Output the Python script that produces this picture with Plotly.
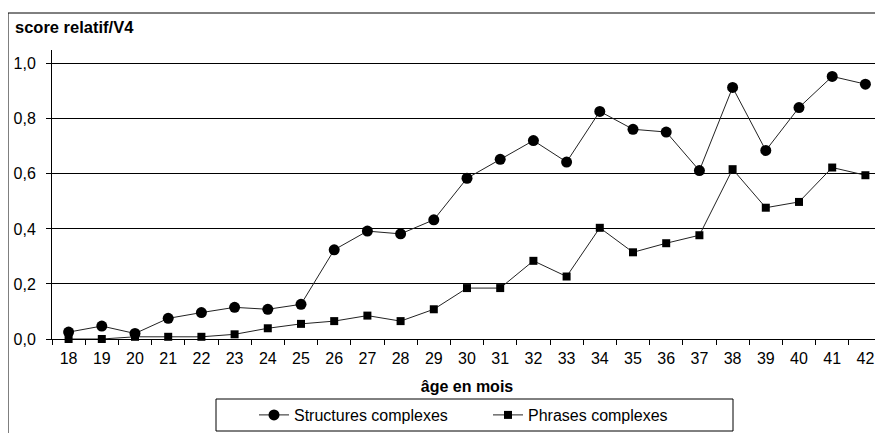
import plotly.graph_objects as go

# age in months (category axis)
ages = [str(a) for a in range(18, 43)]

structures_complexes = [0.025, 0.047, 0.020, 0.075, 0.096, 0.115, 0.108, 0.126,
                        0.324, 0.392, 0.382, 0.433, 0.584, 0.653, 0.721, 0.643,
                        0.827, 0.762, 0.752, 0.612, 0.914, 0.685, 0.841, 0.954, 0.926]

phrases_complexes = [0.0, 0.0, 0.008, 0.008, 0.008, 0.017, 0.039, 0.055,
                     0.065, 0.085, 0.065, 0.108, 0.185, 0.185, 0.284, 0.227,
                     0.404, 0.315, 0.348, 0.377, 0.617, 0.477, 0.498, 0.623, 0.595]

y_ticks = [0.0, 0.2, 0.4, 0.6, 0.8, 1.0]

FONT = "Liberation Sans, Arial, sans-serif"
OFF = 8  # page body margin: the figure div starts at (8, 8) in the window
W, H = 883 - OFF, 433 - OFF
# plot area in window pixels: x 52..882, y 50..339
L, R, T, B = 52 - OFF, 1, 50 - OFF, 433 - 339
pw, ph = W - L - R, H - T - B


def px_x(x):
    # window x pixel -> paper coordinate
    return (x - OFF - L) / pw


def px_y(y):
    # window y pixel -> paper coordinate
    return (H - B - (y - OFF)) / ph


fig = go.Figure()
fig.add_trace(go.Scatter(
    x=ages, y=structures_complexes, name="Structures complexes",
    mode="lines+markers", cliponaxis=False,
    line=dict(color="#222222", width=1),
    marker=dict(symbol="circle", size=11, color="black"),
))
fig.add_trace(go.Scatter(
    x=ages, y=phrases_complexes, name="Phrases complexes",
    mode="lines+markers", cliponaxis=False,
    line=dict(color="#222222", width=1),
    marker=dict(symbol="square", size=8, color="black"),
))

# outer chart frame (Excel style)
fig.add_shape(type="rect", xref="paper", yref="paper",
              x0=px_x(8), x1=px_x(903), y0=px_y(453), y1=px_y(13),
              line=dict(color="black", width=1), layer="below")
# legend box
fig.add_shape(type="rect", xref="paper", yref="paper",
              x0=px_x(216), x1=px_x(733), y0=px_y(431), y1=px_y(399),
              line=dict(color="black", width=1), layer="below")

fig.add_annotation(text="<b>score relatif/V4</b>", xref="paper", yref="paper",
                   x=px_x(13), y=px_y(27), xanchor="left", yanchor="middle",
                   showarrow=False, font=dict(size=16.5, color="black", family=FONT))

fig.update_layout(
    width=W, height=H,
    margin=dict(l=L, r=R, t=T, b=B, autoexpand=False),
    paper_bgcolor="white", plot_bgcolor="white",
    separators=", ",
    font=dict(family=FONT, size=16, color="black"),
    xaxis=dict(
        type="category", tickson="boundaries", ticks="outside", ticklen=5,
        tickcolor="black", showline=True, linecolor="black", linewidth=1,
        showgrid=False, range=[-0.5, len(ages) - 0.5], ticklabelstandoff=5,
        title=dict(text="<b>âge en mois</b>", font=dict(size=16), standoff=14),
    ),
    yaxis=dict(
        range=[0, 1.05], tickvals=y_ticks, tickformat=".1f",
        ticks="outside", ticklen=5, tickcolor="black", ticklabelstandoff=7,
        showline=True, linecolor="black", linewidth=1,
        showgrid=True, gridcolor="black", gridwidth=1, zeroline=False,
    ),
    legend=dict(
        orientation="h", x=px_x(254), xanchor="left",
        y=px_y(398), yanchor="top",
        borderwidth=0, bgcolor="rgba(0,0,0,0)",
        font=dict(size=16), entrywidth=189,
    ),
)

fig.write_html("out.html")
